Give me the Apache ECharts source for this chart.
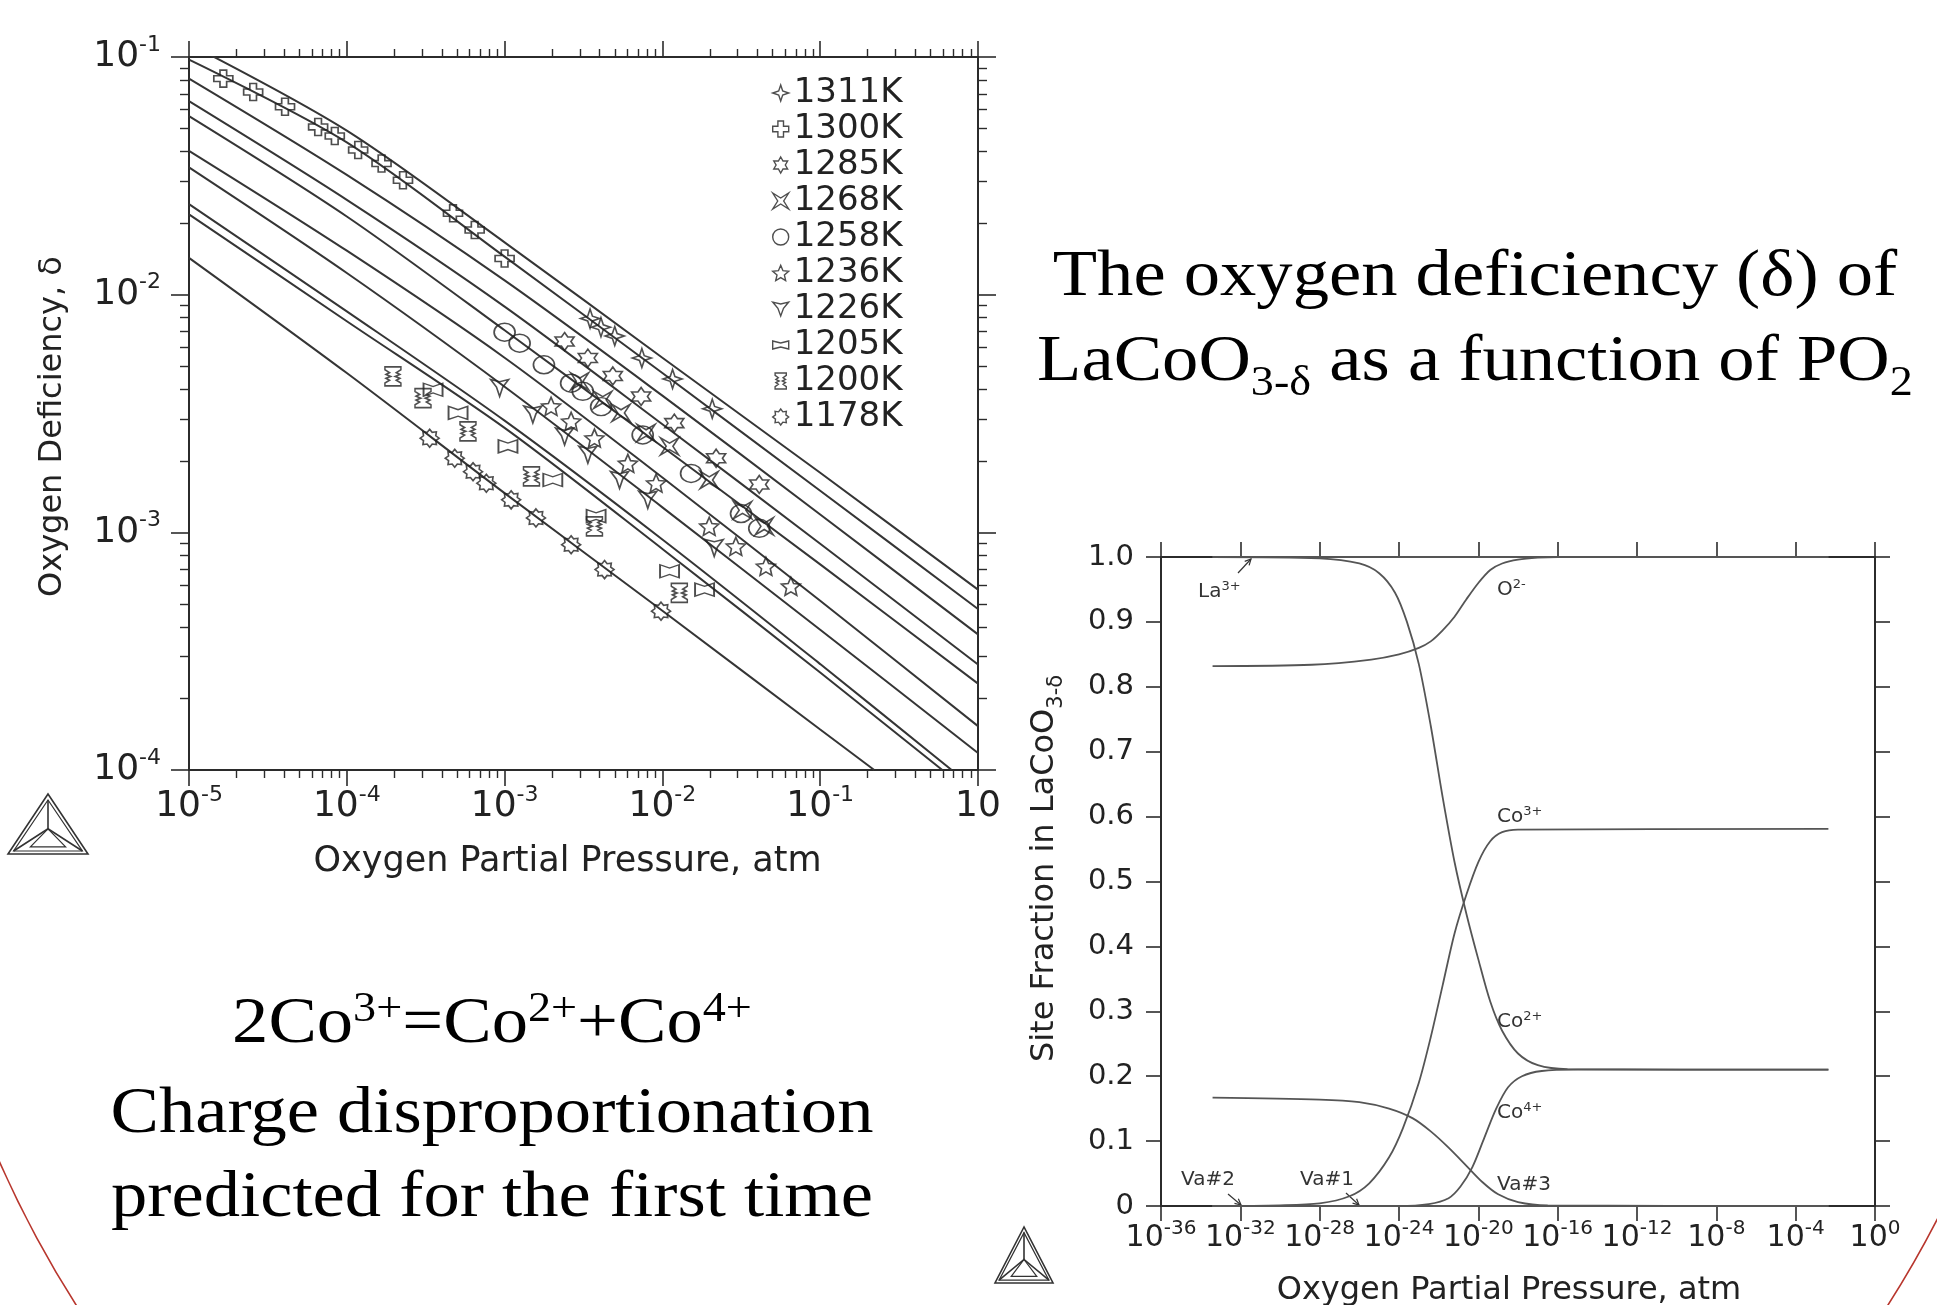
<!DOCTYPE html>
<html><head><meta charset="utf-8">
<script src="https://cdn.jsdelivr.net/npm/echarts@6/dist/echarts.min.js"></script>
<style>html,body{margin:0;padding:0;background:#fff}#c{width:1937px;height:1305px}</style>
</head><body><div id="c"></div>
<script>
// ---------------- LEFT PLOT DATA (pO2 in atm, delta) ----------------
const temperatures = ['1311K','1300K','1285K','1268K','1258K','1236K','1226K','1205K','1200K','1178K'];

const model1311 = [[1e-5,0.1135],[1e-4,0.0490],[1e-3,0.0166],[1e-2,0.00543],[1e-1,0.00178],[1,0.000574]];
const model1300 = [[1e-5,0.0975],[1e-4,0.0437],[1e-3,0.01445],[1e-2,0.00468],[1e-1,0.001496],[1,0.000476]];
const model1285 = [[1e-5,0.0811],[1e-4,0.0319],[1e-3,0.01148],[1e-2,0.00376],[1e-1,0.001189],[1,0.000372]];
const model1268 = [[1e-5,0.0652],[1e-4,0.02506],[1e-3,0.00891],[1e-2,0.00285],[1e-1,0.000895],[1,0.000278]];
const model1258 = [[1e-5,0.0564],[1e-4,0.02133],[1e-3,0.00708],[1e-2,0.00229],[1e-1,0.000733],[1,0.000231]];
const model1236 = [[1e-5,0.0403],[1e-4,0.01531],[1e-3,0.00543],[1e-2,0.0017],[1e-1,0.000515],[1,0.000153]];
const model1226 = [[1e-5,0.0343],[1e-4,0.01233],[1e-3,0.0041],[1e-2,0.001274],[1e-1,0.000389],[1,0.000118]];
const model1205 = [[1e-5,0.02404],[1e-4,0.00851],[1e-3,0.00295],[1e-2,0.000933],[1e-1,0.000279],[0.681,0.0001]];
const model1200 = [[1e-5,0.02178],[1e-4,0.00773],[1e-3,0.00275],[1e-2,0.000851],[1e-1,0.000257],[0.594,0.0001]];
const model1178 = [[1e-5,0.01429],[1e-4,0.00468],[1e-3,0.001462],[1e-2,0.000468],[1e-1,0.000148],[0.22,0.0001]];

const data1311 = [[3.48e-3,7.93e-3],[4.08e-3,7.30e-3],[4.99e-3,6.70e-3],[7.41e-3,5.41e-3],[1.16e-2,4.42e-3],[2.07e-2,3.31e-3]];
const data1300 = [[1.65e-5,0.0811],[2.55e-5,0.0713],[4.06e-5,0.0617],[6.58e-5,0.0508],[8.39e-5,0.0465],[1.18e-4,0.0406],[1.66e-4,0.0356],[2.27e-4,0.0303],[4.71e-4,0.0220],[6.46e-4,0.0187],[1.0e-3,0.0142]];
const data1285 = [[2.40e-3,6.35e-3],[3.37e-3,5.41e-3],[4.85e-3,4.55e-3],[7.33e-3,3.73e-3],[1.19e-2,2.88e-3],[2.19e-2,2.05e-3],[4.11e-2,1.59e-3]];
const data1268 = [[2.99e-3,4.32e-3],[4.19e-3,3.61e-3],[5.47e-3,3.18e-3],[7.88e-3,2.62e-3],[1.11e-2,2.30e-3],[1.98e-2,1.66e-3],[3.22e-2,1.24e-3],[4.42e-2,1.06e-3]];
const data1258 = [[1.00e-3,6.95e-3],[1.245e-3,6.25e-3],[1.775e-3,5.07e-3],[2.64e-3,4.24e-3],[3.13e-3,3.92e-3],[4.09e-3,3.38e-3],[7.5e-3,2.57e-3],[1.52e-2,1.77e-3],[3.15e-2,1.20e-3],[4.11e-2,1.04e-3]];
const data1236 = [[1.97e-3,3.39e-3],[2.64e-3,2.93e-3],[3.71e-3,2.49e-3],[6.04e-3,1.95e-3],[9.12e-3,1.61e-3],[1.98e-2,1.06e-3],[2.92e-2,8.73e-4],[4.53e-2,7.19e-4],[6.52e-2,5.93e-4]];
const data1226 = [[9.3e-4,4.05e-3],[1.51e-3,3.13e-3],[2.40e-3,2.53e-3],[3.37e-3,2.12e-3],[5.35e-3,1.66e-3],[8.08e-3,1.37e-3],[2.13e-2,8.59e-4]];
const data1205 = [[3.52e-4,3.98e-3],[5.07e-4,3.18e-3],[1.05e-3,2.30e-3],[2.02e-3,1.66e-3],[3.80e-3,1.17e-3],[1.11e-2,6.86e-4],[1.85e-2,5.74e-4]];
const data1200 = [[1.96e-4,4.53e-3],[3.04e-4,3.67e-3],[5.86e-4,2.66e-3],[1.48e-3,1.72e-3],[3.71e-3,1.06e-3],[1.28e-2,5.56e-4]];
const data1178 = [[3.35e-4,2.49e-3],[4.83e-4,2.05e-3],[6.31e-4,1.80e-3],[7.66e-4,1.61e-3],[1.10e-3,1.37e-3],[1.58e-3,1.15e-3],[2.64e-3,8.87e-4],[4.30e-3,6.97e-4],[9.80e-3,4.66e-4]];

// ---------------- RIGHT PLOT DATA (log10 pO2, site fraction) ----------------
const la3LogP = [-33.4,-2.35];            const la3Frac = [1.0,1.0];
const va1LogP = [-33.4,-2.35];            const va1Frac = [0,0];
const va2LogP = [-33.4,-2.35];            const va2Frac = [0,0];
const o2LogP  = [-33.4,-28.4,-25.4,-24.0,-23.0,-22.4,-21.8,-21.2,-20.6,-20.0,-19.4,-18.8,-18.0,-17.0,-16.0,-2.35];
const o2Frac  = [0.832,0.834,0.842,0.850,0.860,0.870,0.887,0.908,0.935,0.960,0.980,0.990,0.996,0.999,1.0,1.0];
const co2LogP = [-33.4,-28.0,-26.0,-25.0,-24.2,-23.6,-23.0,-22.4,-21.8,-21.2,-20.6,-20.0,-19.4,-18.8,-18.0,-17.0,-15.5,-2.35];
const co2Frac = [1.0,0.998,0.99,0.975,0.945,0.90,0.835,0.74,0.63,0.53,0.45,0.38,0.315,0.27,0.235,0.217,0.211,0.210];
const co3LogP = [-33.4,-30.0,-28.0,-26.5,-25.5,-24.5,-23.8,-23.0,-22.4,-21.8,-21.2,-20.6,-20.0,-19.4,-18.8,-18.0,-2.35];
const co3Frac = [0.0,0.001,0.004,0.015,0.035,0.075,0.12,0.19,0.26,0.34,0.42,0.48,0.53,0.562,0.576,0.580,0.581];
const co4LogP = [-33.4,-24.0,-22.5,-21.5,-20.9,-20.3,-19.7,-19.1,-18.5,-17.8,-16.8,-15.0,-2.35];
const co4Frac = [0,0,0.003,0.012,0.03,0.06,0.105,0.15,0.183,0.2,0.208,0.21,0.21];
const va3LogP = [-33.4,-28.0,-26.0,-24.5,-23.3,-22.4,-21.5,-20.6,-19.8,-19.0,-18.0,-16.5,-2.35];
const va3Frac = [0.167,0.164,0.16,0.15,0.135,0.115,0.09,0.062,0.037,0.018,0.006,0.001,0];

// ---------------- styling ----------------
const SANS = "'DejaVu Sans', 'Liberation Sans', sans-serif";
const SERIF = "'Liberation Serif', 'Times New Roman', serif";
const INK = '#222';
const AX = '#2b2b2b';

const markerSymbols = [
  'path://M0,-10 L2.5,-2.5 L10,0 L2.5,2.5 L0,10 L-2.5,2.5 L-10,0 L-2.5,-2.5 Z',
  'path://M-3.5,-10 L3.5,-10 L3.5,-3.5 L10,-3.5 L10,3.5 L3.5,3.5 L3.5,10 L-3.5,10 L-3.5,3.5 L-10,3.5 L-10,-3.5 L-3.5,-3.5 Z',
  'path://M0,-10 L2.887,-5 L8.66,-5 L5.77,0 L8.66,5 L2.887,5 L0,10 L-2.887,5 L-8.66,5 L-5.77,0 L-8.66,-5 L-2.887,-5 Z',
  'path://M-8,-8 L0,-3 L8,-8 L3,0 L8,8 L0,3 L-8,8 L-3,0 Z',
  'circle',
  'path://M0,-10 L2.704,-3.721 L9.511,-3.09 L4.375,1.421 L5.878,8.09 L0,4.6 L-5.878,8.09 L-4.375,1.421 L-9.511,-3.09 L-2.704,-3.721 Z',
  'path://M-8.66,-5 L0,-3 L8.66,-5 L3.03,1.75 L0,10 L-3.03,1.75 Z',
  'path://M-10,-5 L0,-2.5 L10,-5 L10,5 L0,2.5 L-10,5 Z',
  'path://M-7,-10 L7,-10 L7,-7 L3,-4 L6,-2 L2,0 L6,2 L3,4 L7,7 L7,10 L-7,10 L-7,7 L-3,4 L-6,2 L-2,0 L-6,-2 L-3,-4 L-7,-7 Z',
  'path://M0,-10 L2.68,-6.47 L7.07,-7.07 L6.47,-2.68 L10,0 L6.47,2.68 L7.07,7.07 L2.68,6.47 L0,10 L-2.68,6.47 L-7.07,7.07 L-6.47,2.68 L-10,0 L-6.47,-2.68 L-7.07,-7.07 L-2.68,-6.47 Z'
];
const markerSizes = [[19,19],[19,17],[19,18],[18,17],[21,18],[19,18],[18,17],[19,13],[16,19],[19,18]];

const models = [model1311,model1300,model1285,model1268,model1258,model1236,model1226,model1205,model1200,model1178];
const points = [data1311,data1300,data1285,data1268,data1258,data1236,data1226,data1205,data1200,data1178];

const toLog = p => [Math.log10(p[0]), Math.log10(p[1])];
const zip = (xs, ys) => xs.map((x, i) => [x, ys[i]]);

const xMinor = []; for (let n = -5; n < 0; n++) for (let k = 2; k < 10; k++) xMinor.push(n + Math.log10(k));
const yMinor = []; for (let n = -4; n < -1; n++) for (let k = 2; k < 10; k++) yMinor.push(n + Math.log10(k));

const powRich = (b, s, lh) => ({
  b: {fontFamily: SANS, fontSize: b, lineHeight: lh, color: INK},
  s: {fontFamily: SANS, fontSize: s, lineHeight: s, verticalAlign: 'top', color: INK}
});
const lineAx = {show: true, onZero: false, lineStyle: {color: AX, width: 2}};
const noLine = {show: false, onZero: false};

const xAxes = [
  {gridIndex: 0, type: 'value', position: 'bottom', min: -5, max: 0, interval: 1,
   axisLine: lineAx, splitLine: {show: false},
   axisTick: {show: true, length: 16, lineStyle: {color: AX, width: 1.6}},
   axisLabel: {show: true, margin: 14, formatter: v => v === 0 ? '{b|10}' : '{b|10}{s|' + v + '}', rich: powRich(36, 22, 46)},
   name: 'Oxygen Partial Pressure, atm', nameLocation: 'middle', nameGap: 74,
   nameTextStyle: {fontFamily: SANS, fontSize: 35, color: INK, padding: [0, 32, 0, 0]}},
  {gridIndex: 0, type: 'value', position: 'bottom', min: -5, max: 0,
   axisLine: noLine, splitLine: {show: false}, axisLabel: {show: false},
   axisTick: {show: true, length: 8, customValues: xMinor, lineStyle: {color: AX, width: 1.4}}},
  {gridIndex: 0, type: 'value', position: 'top', min: -5, max: 0, interval: 1,
   axisLine: lineAx, splitLine: {show: false}, axisLabel: {show: false},
   axisTick: {show: true, length: 16, lineStyle: {color: AX, width: 1.6}}},
  {gridIndex: 0, type: 'value', position: 'top', min: -5, max: 0,
   axisLine: noLine, splitLine: {show: false}, axisLabel: {show: false},
   axisTick: {show: true, length: 8, customValues: xMinor, lineStyle: {color: AX, width: 1.4}}},
  {gridIndex: 1, type: 'value', position: 'bottom', min: -36, max: 0, interval: 4,
   axisLine: lineAx, splitLine: {show: false},
   axisTick: {show: true, length: 15, lineStyle: {color: AX, width: 1.6}},
   axisLabel: {show: true, margin: 13, formatter: v => '{b|10}{s|' + v + '}', rich: powRich(30, 20, 38)},
   name: 'Oxygen Partial Pressure, atm', nameLocation: 'middle', nameGap: 69,
   nameTextStyle: {fontFamily: SANS, fontSize: 32, color: INK, padding: [0, 18, 0, 0]}},
  {gridIndex: 1, type: 'value', position: 'top', min: -36, max: 0, interval: 4,
   axisLine: lineAx, splitLine: {show: false}, axisLabel: {show: false},
   axisTick: {show: true, length: 15, lineStyle: {color: AX, width: 1.6}}}
];
const yAxes = [
  {gridIndex: 0, type: 'value', position: 'left', min: -4, max: -1, interval: 1,
   axisLine: lineAx, splitLine: {show: false},
   axisTick: {show: true, length: 18, lineStyle: {color: AX, width: 1.6}},
   axisLabel: {show: true, margin: 28, formatter: v => '{b|10}{s|' + v + '}', rich: powRich(36, 22, 46)},
   name: 'Oxygen Deficiency, δ', nameLocation: 'middle', nameGap: 120,
   nameTextStyle: {fontFamily: SANS, fontSize: 32, color: INK, padding: [0, 26, 0, 0]}},
  {gridIndex: 0, type: 'value', position: 'left', min: -4, max: -1,
   axisLine: noLine, splitLine: {show: false}, axisLabel: {show: false},
   axisTick: {show: true, length: 9, customValues: yMinor, lineStyle: {color: AX, width: 1.4}}},
  {gridIndex: 0, type: 'value', position: 'right', min: -4, max: -1, interval: 1,
   axisLine: lineAx, splitLine: {show: false}, axisLabel: {show: false},
   axisTick: {show: true, length: 18, lineStyle: {color: AX, width: 1.6}}},
  {gridIndex: 0, type: 'value', position: 'right', min: -4, max: -1,
   axisLine: noLine, splitLine: {show: false}, axisLabel: {show: false},
   axisTick: {show: true, length: 9, customValues: yMinor, lineStyle: {color: AX, width: 1.4}}},
  {gridIndex: 1, type: 'value', position: 'left', min: 0, max: 1, interval: 0.1,
   axisLine: lineAx, splitLine: {show: false},
   axisTick: {show: true, length: 15, lineStyle: {color: AX, width: 1.6}},
   axisLabel: {show: true, margin: 27, fontFamily: SANS, fontSize: 29, color: INK,
     formatter: v => v === 0 ? '0' : v.toFixed(1)},
   name: '{a|Site Fraction in LaCoO}{sub|3-δ}', nameLocation: 'middle', nameGap: 94,
   nameTextStyle: {fontFamily: SANS, fontSize: 32, color: INK, padding: [0, 0, 0, 26],
     rich: {a: {fontFamily: SANS, fontSize: 32, lineHeight: 44, color: INK},
            sub: {fontFamily: SANS, fontSize: 21, verticalAlign: 'bottom', color: INK}}}},
  {gridIndex: 1, type: 'value', position: 'right', min: 0, max: 1, interval: 0.1,
   axisLine: lineAx, splitLine: {show: false}, axisLabel: {show: false},
   axisTick: {show: true, length: 15, lineStyle: {color: AX, width: 1.6}}}
];

const series = [];
models.forEach((m, i) => series.push({
  type: 'line', name: 'model ' + temperatures[i], xAxisIndex: 0, yAxisIndex: 0,
  data: m.map(toLog), showSymbol: false, symbol: 'none', smooth: 0.3,
  clip: true, silent: true, lineStyle: {color: '#353535', width: 2}, z: 2
}));
points.forEach((p, i) => series.push({
  type: 'scatter', name: temperatures[i], xAxisIndex: 0, yAxisIndex: 0,
  data: p.map(toLog), symbol: markerSymbols[i], symbolSize: markerSizes[i], symbolKeepAspect: false,
  itemStyle: {color: 'rgba(255,255,255,0)', borderColor: '#222', borderWidth: 1.6}, z: 3, silent: true
}));
const rightCurves = [
  ['La3+', la3LogP, la3Frac], ['O2-', o2LogP, o2Frac], ['Co2+', co2LogP, co2Frac],
  ['Co3+', co3LogP, co3Frac], ['Co4+', co4LogP, co4Frac], ['Va#3', va3LogP, va3Frac],
  ['Va#1', va1LogP, va1Frac], ['Va#2', va2LogP, va2Frac]
];
rightCurves.forEach(c => series.push({
  type: 'line', name: c[0], xAxisIndex: 4, yAxisIndex: 4, data: zip(c[1], c[2]),
  showSymbol: false, symbol: 'none', smooth: 0.3, silent: true,
  lineStyle: {color: '#555', width: 1.8}, z: 2
}));

// ---------------- decorations ----------------
function logo(x0, y0, w, h) {
  const P = (u, v) => [x0 + u * w, y0 + v * h];
  const st = {stroke: '#333', lineWidth: 1.6, fill: null};
  return [
    {type: 'polygon', shape: {points: [P(0.5, 0), P(0, 1), P(1, 1)]}, style: st},
    {type: 'polygon', shape: {points: [P(0.5, 0.1), P(0.07, 0.95), P(0.93, 0.95)]}, style: {stroke: '#333', lineWidth: 1.2, fill: null}},
    {type: 'polyline', shape: {points: [P(0.5, 0.1), P(0.5, 0.58)]}, style: st},
    {type: 'polyline', shape: {points: [P(0.07, 0.95), P(0.5, 0.58), P(0.93, 0.95)]}, style: st},
    {type: 'polygon', shape: {points: [P(0.5, 0.58), P(0.28, 0.88), P(0.72, 0.88)]}, style: {stroke: '#333', lineWidth: 1.2, fill: null}}
  ];
}
function arrow(x1, y1, x2, y2) {
  const dx = x2 - x1, dy = y2 - y1, L = Math.hypot(dx, dy), ux = dx / L, uy = dy / L;
  const nx = -uy, ny = ux;
  return [
    {type: 'line', shape: {x1, y1, x2, y2}, style: {stroke: '#333', lineWidth: 1.2}},
    {type: 'polyline', shape: {points: [[x2 - 6 * ux + 3 * nx, y2 - 6 * uy + 3 * ny], [x2, y2], [x2 - 6 * ux - 3 * nx, y2 - 6 * uy - 3 * ny]]}, style: {stroke: '#333', lineWidth: 1.2, fill: null}}
  ];
}
const labRich = {b: {fontFamily: SANS, fontSize: 20, lineHeight: 24, color: '#333'},
                 p: {fontFamily: SANS, fontSize: 13, lineHeight: 13, verticalAlign: 'top', color: '#333'}};
function lab(text, x, baseline) {
  return {type: 'text', x: x, y: baseline - 7, style: {text: text, rich: labRich, align: 'left', verticalAlign: 'middle', fill: '#333'}};
}
const slideStyle = {fontFamily: SERIF, fontSize: 66, fill: '#000'};
const graphics = [
  {type: 'arc', shape: {cx: 982, cy: 728, r: 1074, startAngle: 0.3, endAngle: 2.9, clockwise: true},
   style: {stroke: '#b8362d', lineWidth: 1.6, fill: null}, z: -1},
  ...logo(8, 794, 80, 60),
  ...logo(995, 1227, 58, 56),
  {type: 'text', x: 1475, y: 277.7, scaleX: 1.1, style: Object.assign({text: 'The oxygen deficiency (δ) of', align: 'center', verticalAlign: 'middle'}, slideStyle)},
  {type: 'text', x: 1475, y: 362.7, scaleX: 1.1, style: {text: '{a|LaCoO}{s|3-δ}{a| as a function of PO}{s|2}', align: 'center', verticalAlign: 'middle', fill: '#000',
    rich: {a: {fontFamily: SERIF, fontSize: 66, lineHeight: 92, color: '#000'},
           s: {fontFamily: SERIF, fontSize: 42, verticalAlign: 'top', padding: [46, 0, 0, 0], color: '#000'}}}},
  {type: 'text', x: 492, y: 1024.7, scaleX: 1.1, style: {text: '{a|2Co}{p|3+}{a|=Co}{p|2+}{a|+Co}{p|4+}', align: 'center', verticalAlign: 'middle', fill: '#000',
    rich: {a: {fontFamily: SERIF, fontSize: 66, lineHeight: 92, color: '#000'},
           p: {fontFamily: SERIF, fontSize: 42, verticalAlign: 'top', padding: [10, 0, 0, 0], color: '#000'}}}},
  {type: 'text', x: 492, y: 1114.7, scaleX: 1.1, style: Object.assign({text: 'Charge disproportionation', align: 'center', verticalAlign: 'middle'}, slideStyle)},
  {type: 'text', x: 492, y: 1198.7, scaleX: 1.1, style: Object.assign({text: 'predicted for the first time', align: 'center', verticalAlign: 'middle'}, slideStyle)},
  lab('{b|La}{p|3+}', 1198, 599),
  lab('{b|O}{p|2-}', 1497, 597),
  lab('{b|Co}{p|3+}', 1497, 824),
  lab('{b|Co}{p|2+}', 1497, 1029),
  lab('{b|Co}{p|4+}', 1497, 1120),
  lab('{b|Va#3}', 1497, 1192),
  lab('{b|Va#2}', 1181, 1187),
  lab('{b|Va#1}', 1300, 1187),
  ...arrow(1238, 573, 1251, 559),
  ...arrow(1228, 1194, 1241, 1205),
  ...arrow(1346, 1193, 1359, 1205)
];

const chart = echarts.init(document.getElementById('c'), null, {renderer: 'canvas', width: 1937, height: 1305});
chart.setOption({
  animation: false,
  backgroundColor: '#fff',
  grid: [
    {left: 189, top: 57, width: 789, height: 713, containLabel: false, outerBoundsMode: 'none'},
    {left: 1161, top: 557, width: 714, height: 649, containLabel: false, outerBoundsMode: 'none'}
  ],
  xAxis: xAxes,
  yAxis: yAxes,
  legend: {
    show: true, orient: 'vertical', left: 772, top: 62, padding: 0,
    itemWidth: 16, itemHeight: 16, itemGap: -26, selectedMode: false,
    itemStyle: {borderWidth: 1.4},
    data: temperatures.map((n, i) => ({name: n, icon: markerSymbols[i]})),
    textStyle: {fontFamily: SANS, fontSize: 34, color: INK, lineHeight: 36, padding: [0, 0, 26, 0]}
  },
  series: series,
  graphic: {elements: graphics}
});
</script>
</body></html>
